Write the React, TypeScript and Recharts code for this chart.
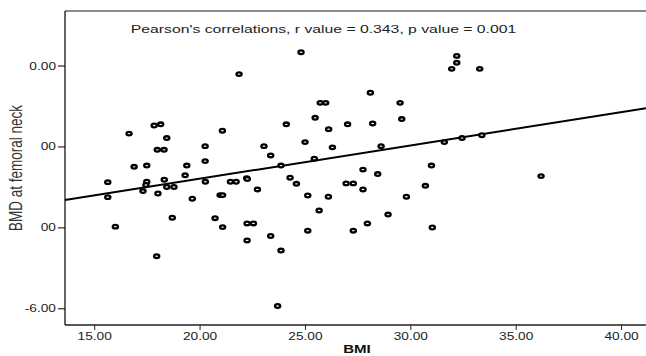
import { ScatterChart, Scatter, XAxis, YAxis, ReferenceLine, Label } from 'recharts'

// values
const BMI = [
  24.79, 21.85, 16.63, 17.82, 18.13, 18.42, 17.97, 18.29, 16.87, 17.47,
  21.06, 20.24, 20.24, 19.37, 19.29, 24.09, 23.03, 23.35, 23.84, 24.98,
  25.46, 25.7, 25.96, 26.1, 27.0, 26.28, 25.42, 24.27, 22.21, 32.18,
  32.18, 31.94, 33.27, 28.08, 29.49, 28.19, 29.57, 28.59, 31.59, 32.43,
  33.37, 27.73, 28.43, 30.98, 36.18, 15.62, 15.62, 15.98, 17.47, 17.43,
  17.29, 18.3, 18.0, 18.42, 18.76, 19.63, 20.25, 18.68, 17.94, 20.95,
  21.07, 20.71, 21.07, 21.44, 21.71, 22.24, 22.72, 22.23, 22.53, 22.23,
  23.35, 23.84, 23.68, 24.57, 25.11, 26.09, 25.65, 25.11, 26.93, 27.27,
  27.27, 27.73, 29.79, 30.69, 28.92, 27.94, 31.02,
]
const BMD = [
  0.34, -0.2, -1.67, -1.47, -1.44, -1.78, -2.07, -2.07, -2.49, -2.46,
  -1.6, -1.98, -2.35, -2.46, -2.7, -1.44, -1.98, -2.21, -2.46, -1.88,
  -1.28, -0.91, -0.91, -1.56, -1.44, -2.01, -2.29, -2.76, -2.77, 0.25,
  0.08, -0.07, -0.07, -0.66, -0.91, -1.42, -1.31, -1.98, -1.88, -1.78,
  -1.71, -2.56, -2.67, -2.46, -2.72, -2.87, -3.24, -3.97, -2.86, -2.94,
  -3.09, -2.81, -3.15, -2.99, -2.99, -3.28, -2.86, -3.75, -4.7, -3.19,
  -3.19, -3.76, -3.98, -2.86, -2.86, -2.79, -3.05, -3.89, -3.89, -4.31,
  -4.2, -4.56, -5.93, -2.91, -3.2, -3.23, -3.57, -4.07, -2.9, -2.9,
  -4.07, -3.05, -3.23, -2.96, -3.67, -3.89, -3.99,
]

const X_DOMAIN = [13.59, 41.16]
const Y_DOMAIN = [-6.4, 1.36]
const X_TICKS = [15, 20, 25, 30, 35, 40]
const Y_TICKS = [-6, -4, -2, 0]
const Y_TICK_LABELS = ['-6.00', '00', '00', '0.00']

// linear fit line
const FIT_INTERCEPT = -4.43
const FIT_SLOPE = 0.0823

const NOTE = "Pearson's correlations, r value = 0.343, p value = 0.001"

const FONT = '"Liberation Sans", Arial, sans-serif'
const SX = 1.37 // source picture is stretched sideways

const points = BMI.map((x, i) => ({ x, y: BMD[i] }))
const fitSegment = X_DOMAIN.map((x) => ({ x, y: FIT_INTERCEPT + FIT_SLOPE * x }))

function XTick({ x, y, payload }: any) {
  return (
    <g transform={`translate(${x},${y})`}>
      <text transform={`scale(${SX},1)`} textAnchor="middle" dy="0.71em" fontSize={10} fill="#222" fontFamily={FONT}>
        {Number(payload.value).toFixed(2)}
      </text>
    </g>
  )
}

function YTick({ x, y, payload }: any) {
  const label = Y_TICK_LABELS[Y_TICKS.indexOf(payload.value)] ?? ''
  return (
    <g transform={`translate(${x},${y})`}>
      <text transform={`scale(${SX},1)`} textAnchor="end" dy="0.35em" fontSize={10} fill="#222" fontFamily={FONT}>
        {label}
      </text>
    </g>
  )
}

function Ring({ cx, cy }: any) {
  return <ellipse cx={cx} cy={cy} rx={2.6} ry={1.8} fill="#fff" stroke="#000" strokeWidth={2.3} />
}

export default function App() {
  return (
    <div style={{ position: 'absolute', left: 0, top: 0, background: '#fff' }}>
      <ScatterChart width={646} height={356} margin={{ top: 11, right: 0, bottom: 0, left: 0 }}>
        <XAxis
          type="number"
          dataKey="x"
          domain={X_DOMAIN}
          ticks={X_TICKS}
          allowDataOverflow
          height={31}
          tickSize={5}
          tickMargin={3}
          tick={<XTick />}
          axisLine={{ stroke: '#222', strokeWidth: 1.3 }}
          tickLine={{ stroke: '#222' }}
        >
          <Label
            content={() => (
              <g transform="translate(357,353)">
                <text transform={`scale(${SX},1)`} textAnchor="middle" fontSize={11} fontWeight="bold" fill="#111" fontFamily={FONT}>
                  BMI
                </text>
              </g>
            )}
          />
        </XAxis>
        <YAxis
          type="number"
          dataKey="y"
          domain={Y_DOMAIN}
          ticks={Y_TICKS}
          allowDataOverflow
          width={65}
          tickSize={7}
          tickMargin={2}
          tick={<YTick />}
          axisLine={{ stroke: '#000', strokeWidth: 1.2 }}
          tickLine={{ stroke: '#000' }}
        >
          <Label
            content={() => (
              <g transform={`translate(22,168) scale(${SX},1) rotate(-90)`}>
                <text textAnchor="middle" fontSize={13.5} fill="#333" fontFamily={FONT}>
                  BMD at femoral neck
                </text>
              </g>
            )}
          />
        </YAxis>
        <ReferenceLine y={Y_DOMAIN[1]} stroke="#8a8a8a" strokeWidth={2} ifOverflow="visible" />
        <ReferenceLine
          segment={fitSegment}
          stroke="#000"
          strokeWidth={2}
          ifOverflow="visible"
          label={{
            content: () => (
              <g transform="translate(323.5,33)">
                <text transform={`scale(${SX},1)`} textAnchor="middle" fontSize={11.5} fill="#222" fontFamily={FONT}>
                  {NOTE}
                </text>
              </g>
            ),
          }}
        />
        <Scatter data={points} shape={<Ring />} isAnimationActive={false} />
      </ScatterChart>
    </div>
  )
}
